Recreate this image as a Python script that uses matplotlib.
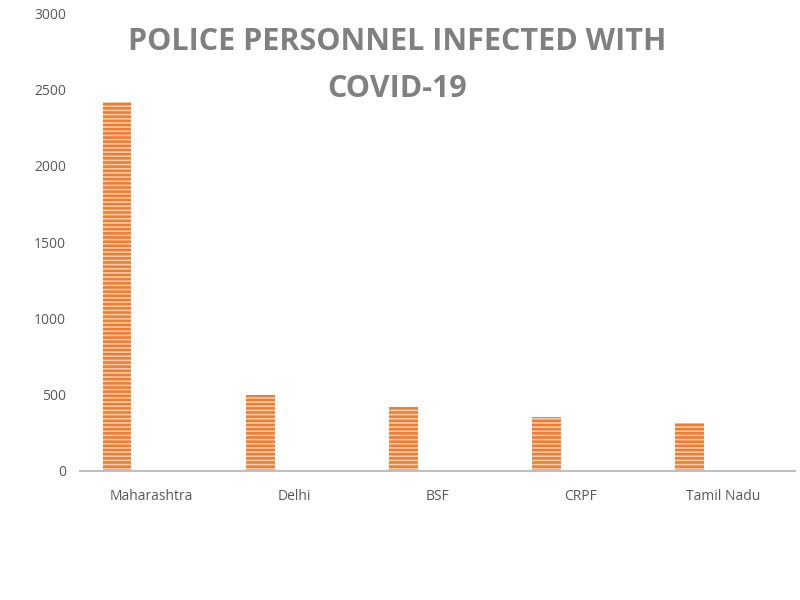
import matplotlib
matplotlib.use("Agg")
import matplotlib.pyplot as plt

# data
categories = ["Maharashtra", "Delhi", "BSF", "CRPF", "Tamil Nadu"]
infected = [2416, 495, 421, 352, 312]
y_ticks = [0, 500, 1000, 1500, 2000, 2500, 3000]

plt.rcParams["font.family"] = ["Open Sans", "DejaVu Sans"]
plt.rcParams["hatch.linewidth"] = 1.2

fig = plt.figure(figsize=(8, 6), dpi=100)
ax = fig.add_axes([0.1, 0.215, 0.894, 0.763])

x = range(len(categories))
ax.bar([i - 0.24 for i in x], infected, width=0.2,
       color="#ED7D31", edgecolor="#F8CBAD", hatch="----", linewidth=0)

ax.set_xlim(-0.5, len(categories) - 0.5)
ax.set_ylim(0, 3000)
ax.set_yticks(y_ticks)
ax.set_xticks(list(x))
ax.set_xticklabels(categories)

for s in ["top", "right", "left"]:
    ax.spines[s].set_visible(False)
ax.spines["bottom"].set_color("#BFBFBF")
ax.spines["bottom"].set_linewidth(1.5)
ax.tick_params(axis="both", length=0, labelsize=10, colors="#595959")
ax.tick_params(axis="x", pad=13)
ax.tick_params(axis="y", pad=10)

fig.text(0.496, 0.93, "POLICE PERSONNEL INFECTED WITH", ha="center", va="center",
         fontsize=22, fontweight="bold", color="#808080")
fig.text(0.496, 0.852, "COVID-19", ha="center", va="center",
         fontsize=22, fontweight="bold", color="#808080")

fig.savefig("out.png", dpi=100)
